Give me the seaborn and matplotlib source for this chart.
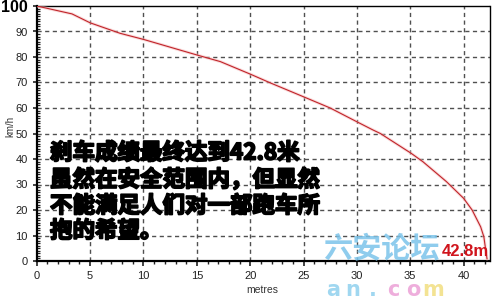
import matplotlib
matplotlib.use("Agg")
import matplotlib.pyplot as plt
import matplotlib.patheffects as pe
from matplotlib.ticker import MultipleLocator
import pandas as pd
import seaborn as sns

# ---- data ----
distance_m = [0, 3.3, 5.0, 7.8, 10.0, 15.0, 17.2, 20.0, 21.8, 25.0, 27.5, 30.0,
              31.5, 32.2, 35.1, 36.2, 38.4, 40.0, 40.8, 41.6, 41.9, 42.1, 42.2]
speed_kmh = [100, 96.9, 93.4, 89.3, 86.9, 80.8, 78.2, 73.3, 70.0, 64.4, 60.0, 54.6,
             51.4, 50.0, 42.2, 38.9, 31.1, 24.6, 20.0, 13.4, 9.5, 3.6, 0.8]
x_ticks = [0, 5, 10, 15, 20, 25, 30, 35, 40]
y_ticks = [0, 10, 20, 30, 40, 50, 60, 70, 80, 90, 100]
x_label = "metres"
y_label = "km/h"
headline_lines = ["刹车成绩最终达到42.8米",
                  "虽然在安全范围内，但显然",
                  "不能满足人们对一部跑车所",
                  "抱的希望。"]
stop_label = "42.8m"
watermark_cn = "六安论坛"
watermark_en = list("an.com")
watermark_en_colors = ["#8fd0ee", "#8fd0ee", "#8fd0ee", "#eca0d6", "#eca0d6", "#f2de80"]

sns.set_theme(style="white")
plt.rcParams["font.family"] = ["Liberation Sans", "DejaVu Sans"]
plt.rcParams["lines.scale_dashes"] = False

W, H = 500, 300
fig, ax = plt.subplots(figsize=(5, 3), dpi=100)
fig.patch.set_facecolor("white")
left, right, top, bottom = 36.8, 489.5, 6, 261
fig.subplots_adjust(left=left / W, right=right / W, top=1 - top / H, bottom=1 - bottom / H)
ax.set_facecolor("white")

df = pd.DataFrame({"distance": distance_m, "speed": speed_kmh})
sns.lineplot(data=df, x="distance", y="speed", ax=ax, sort=False, estimator=None,
             color="#f6bcbc", lw=2.2, alpha=0.55, zorder=3)
sns.lineplot(data=df, x="distance", y="speed", ax=ax, sort=False, estimator=None,
             color="#c0242a", lw=0.8, zorder=4)

ax.set_xlim(0, 42.43)
ax.set_ylim(0, 100)
ax.set_xticks(x_ticks)
ax.set_yticks(y_ticks)
ax.set_xticklabels([str(t) for t in x_ticks])
ax.set_yticklabels([str(t) for t in y_ticks])
ax.xaxis.set_minor_locator(MultipleLocator(1))
ax.yaxis.set_minor_locator(MultipleLocator(1))
ax.set_xlabel("")
ax.set_ylabel("")

ax.tick_params(axis="x", which="major", direction="out", length=3.5, width=1.2,
               labelsize=8, colors="#222222", pad=4, bottom=True)
ax.tick_params(axis="x", which="minor", direction="out", length=2, width=1,
               colors="#222222", bottom=True)
ax.tick_params(axis="y", which="major", direction="out", length=3, width=1.2,
               labelsize=8, colors="#222222", pad=3.5, left=True)
ax.tick_params(axis="y", which="minor", direction="in", length=1.8, width=0.9,
               colors="#222222", left=True)

# dashed grid lines at every major tick
grid_style = dict(color="#505050", linewidth=1.0, linestyle=(0, (3, 2.5)), zorder=2.5)
for xv in x_ticks[1:]:
    ax.axvline(xv, **grid_style)
for yv in y_ticks[1:-1]:
    ax.axhline(yv, **grid_style)

for lab in ax.get_yticklabels():
    if lab.get_text() == "100":
        lab.set_fontsize(11.5)
        lab.set_fontweight("bold")
        lab.set_color("black")

for s in ["left", "bottom"]:
    ax.spines[s].set_visible(True)
    ax.spines[s].set_color("black")
    ax.spines[s].set_linewidth(1.6)
for s in ["top", "right"]:
    ax.spines[s].set_visible(True)
    ax.spines[s].set_color("black")
    ax.spines[s].set_linewidth(1.0)

fig.text(10 / W, 1 - 126 / H, y_label, rotation=90, ha="center", va="center",
         fontsize=7, color="#333333")
fig.text(262 / W, 1 - 290 / H, x_label, ha="center", va="center",
         fontsize=7.5, color="#333333")

cjk = ["Noto Sans CJK SC", "DejaVu Sans"]
line_y = [153, 180, 206, 231]
for txt, yy in zip(headline_lines, line_y):
    fig.text(50 / W, 1 - yy / H, txt, ha="left", va="center", fontsize=16.2,
             fontweight="bold", family=cjk, color="black", zorder=6,
             path_effects=[pe.withStroke(linewidth=1.3, foreground="black")])

# watermark
fig.text(381 / W, 1 - 249 / H, watermark_cn, ha="center", va="center", fontsize=21,
         fontweight="bold", family=cjk, color="#7cc4ea", alpha=0.85, zorder=7)
for i, (ch, col) in enumerate(zip(watermark_en, watermark_en_colors)):
    fig.text((333 + 20 * i) / W, 1 - 290 / H, ch, ha="center", va="center",
             fontsize=15, fontweight="bold", family=["DejaVu Sans"], color=col,
             alpha=0.85, zorder=7)

fig.text(489 / W, 1 - 251.5 / H, stop_label, ha="right", va="center", fontsize=12,
         fontweight="bold", color="#d0141c", zorder=8)

fig.savefig("out.png", dpi=100, facecolor="white")
